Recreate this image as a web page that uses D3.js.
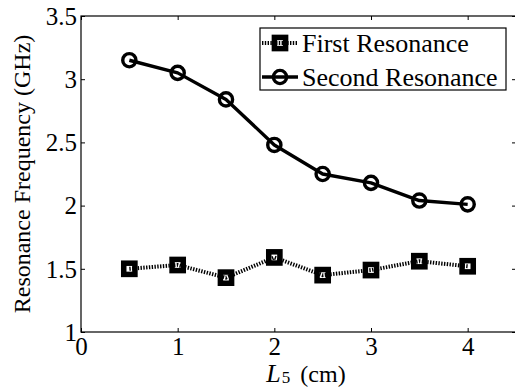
<!DOCTYPE html>
<html>
<head>
<meta charset="utf-8">
<script src="https://cdn.jsdelivr.net/npm/d3@7"></script>
<style>
  html, body { margin: 0; padding: 0; background: #fff; }
  svg { display: block; }
  text { font-family: "Liberation Serif", "Times New Roman", serif; fill: #000; }
</style>
</head>
<body>
<svg id="chart" width="515" height="387"></svg>
<script>
// Resonance frequency versus stub length L5
const lengths = [0.5, 1, 1.5, 2, 2.5, 3, 3.5, 4];
const firstResonance = [1.50, 1.53, 1.43, 1.59, 1.45, 1.49, 1.56, 1.52];
const secondResonance = [3.15, 3.05, 2.84, 2.48, 2.25, 2.18, 2.04, 2.01];
const xTicks = [0, 1, 2, 3, 4];
const yTicks = [1, 1.5, 2, 2.5, 3, 3.5];
const seriesNames = ["First Resonance", "Second Resonance"];

const svg = d3.select("#chart");
const m = { left: 81, top: 16, right: 516, bottom: 332 };

const x = d3.scaleLinear().domain([0, 4.5]).range([m.left, m.right]);
const y = d3.scaleLinear().domain([1, 3.5]).range([m.bottom, m.top]);

const serif = '"Liberation Serif", "Times New Roman", serif';

// frame
svg.append("rect")
  .attr("x", m.left).attr("y", m.top)
  .attr("width", m.right - m.left).attr("height", m.bottom - m.top)
  .attr("fill", "none").attr("stroke", "#000").attr("stroke-width", 1.2);

// axes with inward ticks on all four sides
const axB = svg.append("g").attr("transform", `translate(0,${m.bottom})`)
  .call(d3.axisBottom(x).tickValues(xTicks).tickSize(-4).tickPadding(0).tickFormat(d3.format("d")));
const axT = svg.append("g").attr("transform", `translate(0,${m.top})`)
  .call(d3.axisTop(x).tickValues(xTicks).tickSize(-4).tickFormat(""));
const axL = svg.append("g").attr("transform", `translate(${m.left},0)`)
  .call(d3.axisLeft(y).tickValues(yTicks).tickSize(-4).tickPadding(0).tickFormat(d => d3.format("")(d)));
const axR = svg.append("g").attr("transform", `translate(${m.right},0)`)
  .call(d3.axisRight(y).tickValues(yTicks).tickSize(-4).tickFormat(""));

[axB, axT, axL, axR].forEach(g => {
  g.attr("font-family", null).attr("font-size", null);
  g.select(".domain").remove();
  g.selectAll(".tick line").attr("stroke", "#000").attr("stroke-width", 1);
});
axB.selectAll(".tick text")
  .style("font-family", serif).style("font-size", "25px")
  .attr("y", 23).attr("dy", 0);
axL.selectAll(".tick text")
  .style("font-family", serif).style("font-size", "25px")
  .attr("x", -4).attr("dy", "0.33em");

// axis titles
svg.append("text")
  .attr("transform", `translate(30,${(m.top + m.bottom) / 2}) rotate(-90)`)
  .attr("text-anchor", "middle").style("font-size", "24px")
  .text("Resonance Frequency (GHz)");

const xl = svg.append("text")
  .attr("x", 306).attr("y", 382)
  .attr("text-anchor", "middle").style("font-size", "24px");
xl.append("tspan").attr("font-style", "italic").style("font-size", "26px").text("L");
xl.append("tspan").style("font-size", "17px").attr("dy", 1).attr("dx", 1).text("5");
xl.append("tspan").attr("dy", -1).attr("dx", 4).text(" (cm)");

// series
const line = d3.line().x(d => x(d[0])).y(d => y(d[1]));
const firstPts = lengths.map((l, i) => [l, firstResonance[i]]);
const secondPts = lengths.map((l, i) => [l, secondResonance[i]]);

const plot = svg.append("g");

plot.append("path").datum(firstPts).attr("d", line)
  .attr("fill", "none").attr("stroke", "#000")
  .attr("stroke-width", 4).attr("stroke-dasharray", "1.4,1.4");
plot.selectAll("rect.sq").data(firstPts).join("rect").attr("class", "sq")
  .attr("x", d => x(d[0]) - 5.6).attr("y", d => y(d[1]) - 5.6)
  .attr("width", 11.2).attr("height", 11.2)
  .attr("fill", "none").attr("stroke", "#000").attr("stroke-width", 5.5);

plot.append("path").datum(secondPts).attr("d", line)
  .attr("fill", "none").attr("stroke", "#000").attr("stroke-width", 3.4)
  .attr("stroke-linejoin", "round");
plot.selectAll("circle.ci").data(secondPts).join("circle").attr("class", "ci")
  .attr("cx", d => x(d[0])).attr("cy", d => y(d[1])).attr("r", 6.6)
  .attr("fill", "none").attr("stroke", "#000").attr("stroke-width", 3.4);

// legend
const lg = svg.append("g");
lg.append("rect").attr("x", 260).attr("y", 28).attr("width", 246).attr("height", 62)
  .attr("fill", "#fff").attr("stroke", "#000").attr("stroke-width", 1.2);

const rows = [43, 77];
lg.append("line").attr("x1", 262).attr("x2", 298).attr("y1", rows[0]).attr("y2", rows[0])
  .attr("stroke", "#000").attr("stroke-width", 4).attr("stroke-dasharray", "1.4,1.4");
lg.append("rect").attr("x", 280 - 5.6).attr("y", rows[0] - 5.6).attr("width", 11.2).attr("height", 11.2)
  .attr("fill", "none").attr("stroke", "#000").attr("stroke-width", 5.5);
lg.append("line").attr("x1", 262).attr("x2", 298).attr("y1", rows[1]).attr("y2", rows[1])
  .attr("stroke", "#000").attr("stroke-width", 3.4);
lg.append("circle").attr("cx", 280).attr("cy", rows[1]).attr("r", 6.6)
  .attr("fill", "none").attr("stroke", "#000").attr("stroke-width", 3.4);

lg.selectAll("text.lt").data(seriesNames).join("text").attr("class", "lt")
  .attr("x", 302).attr("y", (d, i) => rows[i] + 9)
  .style("font-size", "26px").text(d => d);
</script>
</body>
</html>
